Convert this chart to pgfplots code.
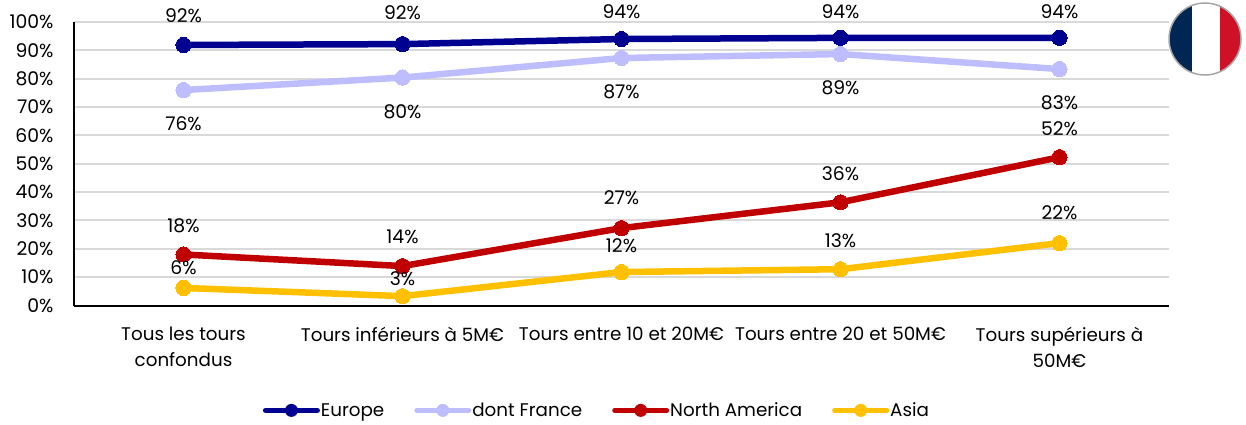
\documentclass[border=0pt]{standalone}
\usepackage{fontspec}
\usepackage{pgfplots}
\usepackage{pgfplotstable}
\pgfplotsset{compat=1.18}
\setmainfont{Poppins}

\definecolor{europe}{HTML}{000091}
\definecolor{france}{HTML}{BDBDFF}
\definecolor{namerica}{HTML}{C00000}
\definecolor{asia}{HTML}{FFC000}
\definecolor{gridgrey}{HTML}{D9D9D9}
\definecolor{flagblue}{HTML}{002654}
\definecolor{flagred}{HTML}{CE1126}

% x = funding round bracket, y = share in percent, dy = label offset
\pgfplotstableread{
x y dy
0 91.9 29
1 92.2 31
2 94.0 27
3 94.4 26
4 94.4 26
}\europetable
\pgfplotstableread{
x y dy
0 76.0 -34
1 80.4 -34
2 87.3 -34
3 88.7 -34
4 83.4 -34
}\francetable
\pgfplotstableread{
x y dy
0 18.0 29
1 13.9 29
2 27.3 30
3 36.4 29
4 52.3 29
}\natable
\pgfplotstableread{
x y dy
0 6.2 20
1 3.3 17
2 11.8 26
3 12.8 29
4 22.0 30
}\asiatable

\pgfplotsset{
  series/.style={
    color=#1, line width=6.5pt, mark=*,
    mark size=7.6pt,
    mark options={solid, fill=#1, draw=#1, line width=0pt},
    visualization depends on={\thisrow{dy} \as \dy},
    point meta=y,
    nodes near coords={\pgfmathprintnumber[fixed,precision=0,assume math mode=true]{\pgfplotspointmeta}\%},
    every node near coord/.append style={
      text=black, anchor=center, yshift=\dy pt, inner sep=0pt,
      font=\fontsize{18.8}{22}\selectfont},
  },
}

\begin{document}
\begin{tikzpicture}[x=1pt,y=1pt]
\path[use as bounding box] (0,0) rectangle (1246,424);
\begin{axis}[
  at={(74pt,118.5pt)}, anchor=south west,
  scale only axis, width=1095pt, height=283.5pt,
  xmin=-0.5, xmax=4.5, ymin=0, ymax=100,
  clip=false,
  axis x line*=bottom, axis y line*=left,
  axis line style={-, black, line width=2pt},
  xtick={0,1,2,3,4},
  xticklabels={{Tous les tours\\confondus},{Tours inférieurs à 5M€},{Tours entre 10 et 20M€},{Tours entre 20 et 50M€},{Tours supérieurs à\\50M€}},
  ytick={0,10,...,100},
  yticklabel={\pgfmathprintnumber[assume math mode=true]{\tick}\%},
  major tick length=0pt,
  ymajorgrids, grid style={gridgrey, line width=2pt},
  x tick label style={font=\fontsize{18.3}{26}\selectfont, align=center, yshift=-18pt, anchor=north},
  y tick label style={font=\fontsize{18.8}{22}\selectfont, xshift=-17pt},
  legend style={
    at={(0.4776,-0.370)}, anchor=center, draw=none, fill=none,
    legend columns=4, font=\fontsize{18.3}{22}\selectfont,
    /tikz/every odd column/.style={column sep=-1pt},
    /tikz/every even column/.style={column sep=28pt},
    inner sep=0pt,
  },
  legend image code/.code={
    \draw[#1, line width=5pt, line cap=round, mark=none] (0pt,0pt) -- (52pt,0pt);
    \fill[#1, draw=none] (26pt,0pt) circle[radius=6.5pt];
  },
]
\addplot[series=europe] table[x=x,y=y] {\europetable};
\addlegendentry{Europe}
\addplot[series=france] table[x=x,y=y] {\francetable};
\addlegendentry{dont France}
\addplot[series=namerica] table[x=x,y=y] {\natable};
\addlegendentry{North America}
\addplot[series=asia] table[x=x,y=y] {\asiatable};
\addlegendentry{Asia}
\end{axis}
% Round French flag in the top right corner
\begin{scope}
  \clip (1205,385) circle[radius=36];
  \fill[flagblue] (1169,349) rectangle (1191.5,421);
  \fill[white] (1191.5,349) rectangle (1220,421);
  \fill[flagred] (1220,349) rectangle (1241,421);
\end{scope}
\draw[gray!70, line width=1.5pt] (1205,385) circle[radius=36];
\end{tikzpicture}
\end{document}
